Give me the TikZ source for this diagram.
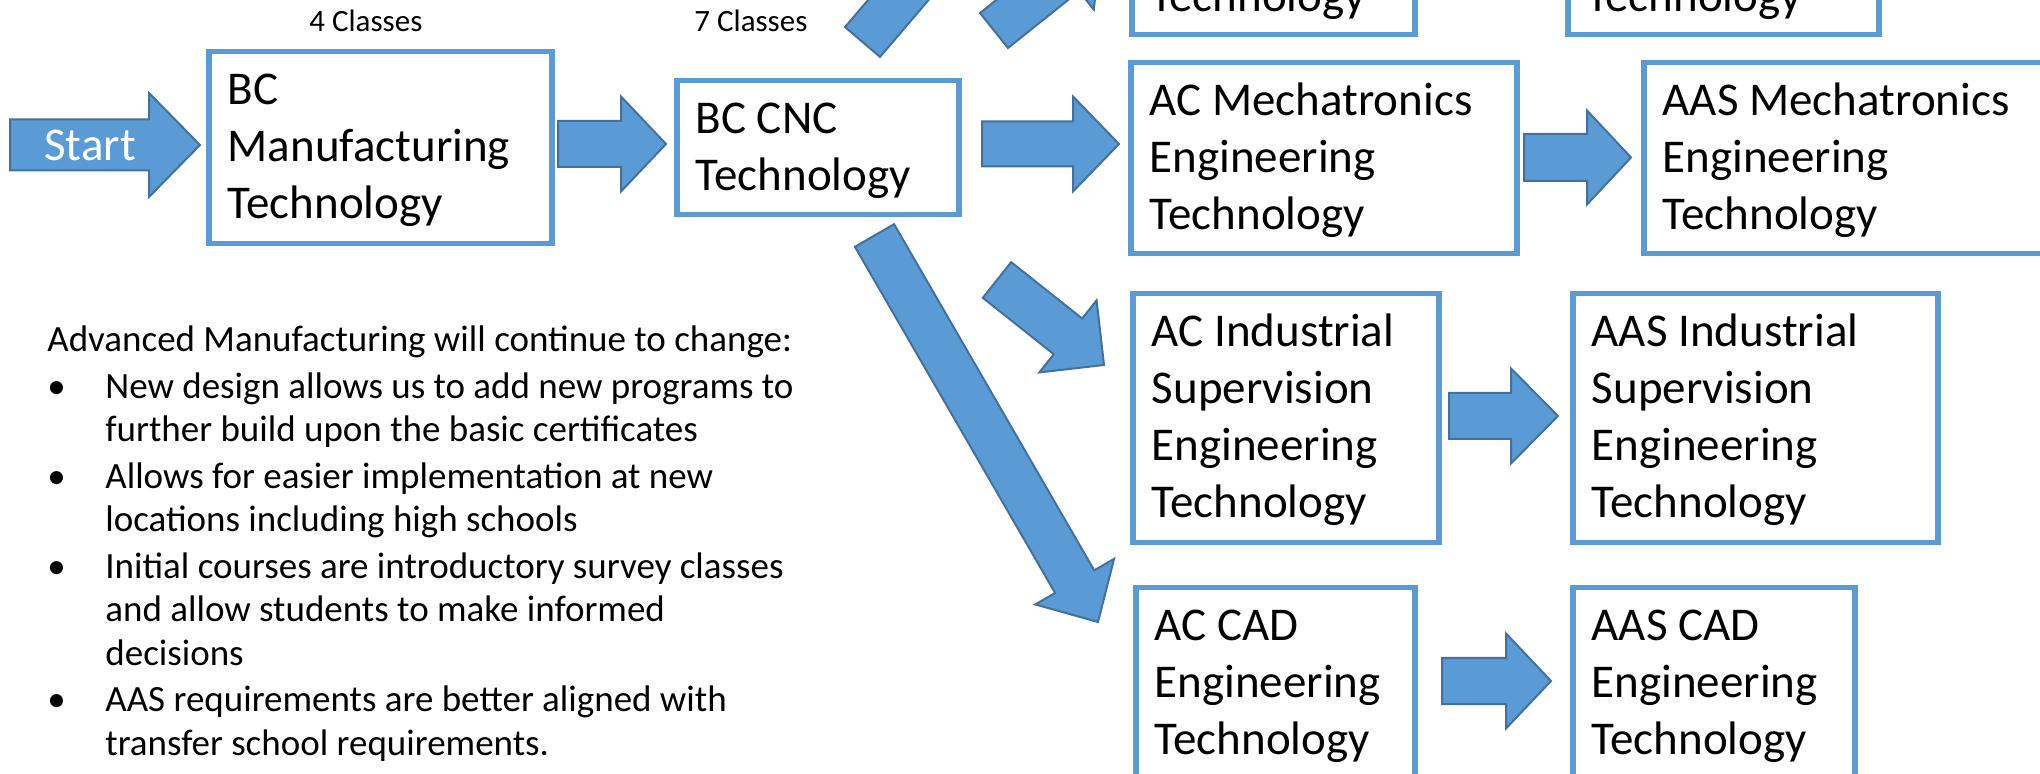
\documentclass[tikz,border=0pt]{standalone}
\usepackage{fontspec}
\setmainfont{Carlito}
\usepackage{tikz}
\usetikzlibrary{calc}
\definecolor{arrowblue}{HTML}{5B9BD5}
\definecolor{arrowedge}{HTML}{41719C}
\definecolor{boxblue}{HTML}{5B9BD5}
\newlength\pxu
\setlength\pxu{0.5pt}
\tikzset{
    prog/.style={draw=boxblue, line width=2.75pt, fill=white, inner sep=0pt, anchor=north west},
    blockarrow/.style={fill=arrowblue, draw=arrowedge, line width=1pt},
    classes/.style={inner sep=0pt, anchor=base west, font=\fontsize{15.5pt}{18pt}\selectfont},
    starttext/.style={inner sep=0pt, anchor=base west, text=white, font=\fontsize{23.5pt}{28.5pt}\selectfont},
}
% text of a programme box: width, height (pixels), lines
\newcommand\progbox[3]{%
    \parbox[c][#2\pxu][t]{#1\pxu}{\fontsize{23.5pt}{28.5pt}\selectfont\raggedright
        \leftskip=9.5pt\rule{0pt}{26.5pt}#3}}
% block arrow: tail, tip, shaft half width, head half width, head length
\newcommand\blockarrow[5]{%
    \coordinate (hb) at ($(#2)!#5!(#1)$);
    \draw[blockarrow]
        ($(#1)!#3!90:(#2)$) -- ($(hb)!#3!90:(#2)$) -- ($(hb)!#4!90:(#2)$) -- (#2)
        -- ($(hb)!#4!-90:(#2)$) -- ($(hb)!#3!-90:(#2)$) -- ($(#1)!#3!-90:(#2)$) -- cycle;
}
\newcommand\noteitem[1]{\par\vspace{1.45pt}\hangindent=29pt\hangafter=1
    \noindent\makebox[29pt][l]{\textbullet}#1}

\begin{document}
\begin{tikzpicture}[x=0.5pt, y=-0.5pt]
    \useasboundingbox (0,0) rectangle (2040,774);
    \clip (0,0) rectangle (2040,774);

    \coordinate (startT) at (10,145);
    \coordinate (startH) at (200,145);
    \coordinate (mfgT) at (558,144);
    \coordinate (mfgH) at (666,144);
    \coordinate (cncT) at (982,144);
    \coordinate (cncH) at (1119,144);
    \coordinate (mechT) at (1524,157.5);
    \coordinate (mechH) at (1631,157.5);
    \coordinate (indT) at (1449,416);
    \coordinate (indH) at (1558,416);
    \coordinate (cadT) at (1442,681);
    \coordinate (cadH) at (1551,681);
    \coordinate (toindT) at (997,280);
    \coordinate (toindH) at (1104,365);
    \coordinate (tocadT) at (874.5,235.5);
    \coordinate (tocadH) at (1098,622);
    \coordinate (totopT) at (994,30.5);
    \coordinate (totopH) at (1101,-55);
    \coordinate (toupT) at (862.5,42);
    \coordinate (toupH) at (1057,-186);

    % arrows
    \foreach \t/\h/\sw/\hw/\hl in {
        startT/startH/12.75pt/26pt/25.5pt,
        mfgT/mfgH/11.5pt/23.75pt/22.5pt,
        cncT/cncH/11.25pt/23.75pt/23pt,
        mechT/mechH/11.75pt/23.5pt/22pt,
        indT/indH/11.5pt/23.75pt/23.5pt,
        cadT/cadH/11.5pt/23.75pt/22.5pt,
        toindT/toindH/11.4pt/23pt/23pt,
        tocadT/tocadH/11.3pt/22.75pt/23.3pt,
        totopT/totopH/11.2pt/23pt/23pt,
        toupT/toupH/11.5pt/23pt/23pt}{
        \blockarrow{\t}{\h}{\sw}{\hw}{\hl}
    }

    \node[starttext] (start) at (44,161) {Start};

    % programme boxes
    \foreach \name/\x/\y/\w/\h/\txt in {
        mfg/206/49/343/192/{BC\\Manufacturing\\Technology},
        cnc/674/78/282/134/{BC CNC\\Technology},
        topac/1129/-44/283/76/{Technology},
        topaas/1565/-44/311/76/{Technology},
        mechac/1128/60/386/191/{AC Mechatronics\\Engineering\\Technology},
        mechaas/1641/60/420/191/{AAS Mechatronics\\Engineering\\Technology},
        indac/1130/291/306/249/{AC Industrial\\Supervision\\Engineering\\Technology},
        indaas/1570/291/365/249/{AAS Industrial\\Supervision\\Engineering\\Technology},
        cadac/1133/585/279/215/{AC CAD\\Engineering\\Technology},
        cadaas/1570/585/282/215/{AAS CAD\\Engineering\\Technology}}{
        \node[prog] (\name) at (\x,\y) {\progbox{\w}{\h}{\txt}};
    }

    \node[classes] (mfgcount) at (309,32) {4 Classes};
    \node[classes] (cnccount) at (694,32) {7 Classes};

    % notes
    \node[inner sep=0pt, anchor=base west] (notes) at (47,352) {\parbox[t]{400pt}{%
        \fontsize{18.5pt}{21.75pt}\selectfont\raggedright
        Advanced Manufacturing will continue to change:
        \noteitem{New design allows us to add new programs to\newline further build upon the basic certificates}
        \noteitem{Allows for easier implementation at new\newline locations including high schools}
        \noteitem{Initial courses are introductory survey classes\newline and allow students to make informed\newline decisions}
        \noteitem{AAS requirements are better aligned with\newline transfer school requirements.}}};
\end{tikzpicture}
\end{document}
